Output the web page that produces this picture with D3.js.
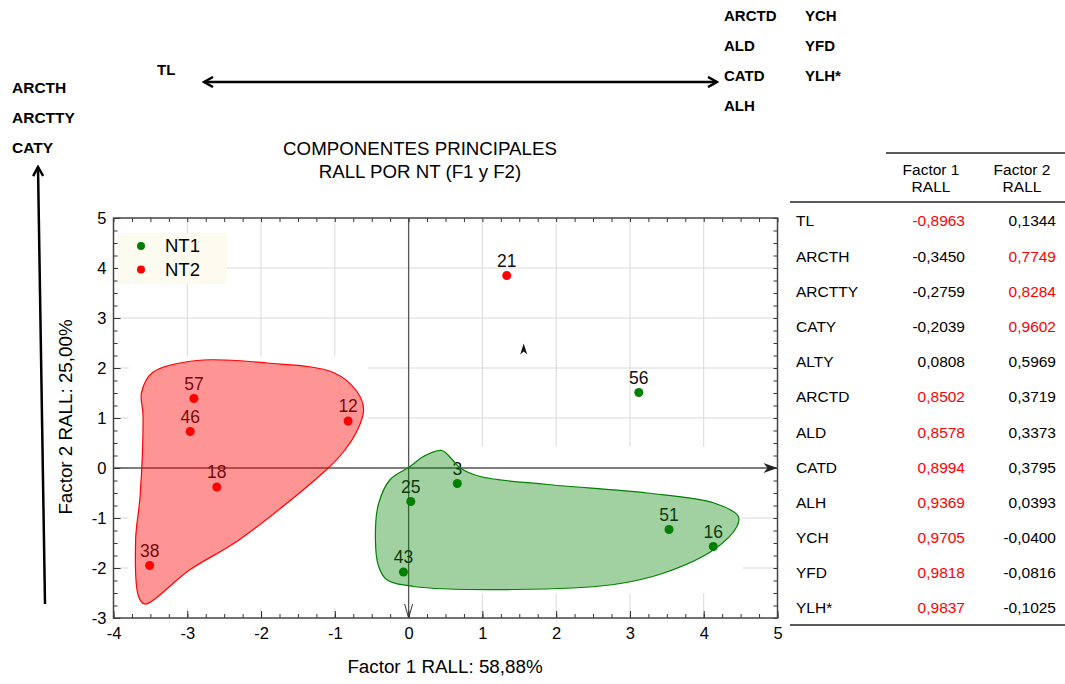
<!DOCTYPE html>
<html>
<head>
<meta charset="utf-8">
<script src="https://cdn.jsdelivr.net/npm/d3@7"></script>
<style>
  body { margin: 0; background: #fff; }
  svg text { font-family: "Liberation Sans", Arial, sans-serif; }
</style>
</head>
<body>
<div id="pca_plot"></div>
<script>
// scores on F1 / F2, one entry per tree
var pointIds   = ["56", "3", "25", "51", "16", "43", "21", "57", "46", "12", "18", "38"];
var pointGroup = ["NT1", "NT1", "NT1", "NT1", "NT1", "NT1", "NT2", "NT2", "NT2", "NT2", "NT2", "NT2"];
var pointF1    = [3.12, 0.66, 0.03, 3.53, 4.13, -0.07, 1.33, -2.91, -2.96, -0.82, -2.60, -3.51];
var pointF2    = [1.51, -0.31, -0.67, -1.23, -1.57, -2.08, 3.85, 1.39, 0.73, 0.94, -0.38, -1.95];

var groups = ["NT1", "NT2"];
var groupColors = ["#008000", "#ff0000"];

// hand drawn envelopes around each group (data units)
var nt2HullF1 = [-3.62, -3.47, -2.87, -1.92, -1.02, -0.70, -0.61, -0.69, -0.89, -1.11, -2.29, -2.96, -3.58, -3.66, -3.70, -3.64, -3.60];
var nt2HullF2 = [1.51, 1.91, 2.15, 2.10, 1.91, 1.53, 1.17, 0.77, 0.31, -0.03, -1.43, -2.03, -2.72, -2.57, -1.43, -0.57, 1.05];
var nt1HullF1 = [0.45, 0.59, 0.70, 0.97, 1.88, 3.23, 4.14, 4.47, 4.45, 4.14, 3.46, 2.78, 1.42, 0.07, -0.30, -0.41, -0.45, -0.41, -0.25, 0.02, 0.20];
var nt1HullF2 = [0.35, 0.17, 0.0, -0.17, -0.33, -0.50, -0.70, -0.97, -1.17, -1.63, -2.10, -2.33, -2.43, -2.37, -2.23, -1.95, -1.43, -0.73, -0.23, 0.03, 0.23];

var xTicks = [-4, -3, -2, -1, 0, 1, 2, 3, 4, 5];
var yTicks = [-3, -2, -1, 0, 1, 2, 3, 4, 5];

// loadings table
var loadingVars = ["TL", "ARCTH", "ARCTTY", "CATY", "ALTY", "ARCTD", "ALD", "CATD", "ALH", "YCH", "YFD", "YLH*"];
var factor1 = [-0.8963, -0.3450, -0.2759, -0.2039, 0.0808, 0.8502, 0.8578, 0.8994, 0.9369, 0.9705, 0.9818, 0.9837];
var factor2 = [0.1344, 0.7749, 0.8284, 0.9602, 0.5969, 0.3719, 0.3373, 0.3795, 0.0393, -0.0400, -0.0816, -0.1025];

// variable names placed at the ends of the loading arrows
var leftVars = ["ARCTH", "ARCTTY", "CATY"];
var rightVarsA = ["ARCTD", "ALD", "CATD", "ALH"];
var rightVarsB = ["YCH", "YFD", "YLH*"];

var W = 1065, H = 684;
var svg = d3.select("#pca_plot").append("svg")
    .attr("width", W).attr("height", H);

var defs = svg.append("defs");
defs.append("marker").attr("id", "headBig")
    .attr("viewBox", "0 0 12 12").attr("refX", 10).attr("refY", 6)
    .attr("markerWidth", 12).attr("markerHeight", 12).attr("markerUnits", "userSpaceOnUse")
    .attr("orient", "auto-start-reverse")
    .append("path").attr("d", "M1,1 L10,6 L1,11").attr("fill", "none")
    .attr("stroke", "#000").attr("stroke-width", 2.5);

var x = d3.scaleLinear().domain([-4, 5]).range([113.5, 777.5]);
var y = d3.scaleLinear().domain([-3, 5]).range([618, 218]);

// grid
var grid = svg.append("g");
grid.selectAll("line.gx").data(xTicks.slice(1, -1)).enter().append("line")
    .attr("x1", function (d) { return x(d); }).attr("x2", function (d) { return x(d); })
    .attr("y1", y(-3)).attr("y2", y(5))
    .attr("stroke", "#d9d9d9").attr("stroke-width", 1);
grid.selectAll("line.gy").data(yTicks.slice(1, -1)).enter().append("line")
    .attr("y1", function (d) { return y(d); }).attr("y2", function (d) { return y(d); })
    .attr("x1", x(-4)).attr("x2", x(5))
    .attr("stroke", "#d9d9d9").attr("stroke-width", 1);

var hullLine = d3.line()
    .x(function (d) { return x(d[0]); })
    .y(function (d) { return y(d[1]); })
    .curve(d3.curveCatmullRomClosed.alpha(0.5));

var hulls = [
    { group: "NT2", pts: d3.zip(nt2HullF1, nt2HullF2) },
    { group: "NT1", pts: d3.zip(nt1HullF1, nt1HullF2) }
];

// white backing box behind each envelope (the grid is hidden there)
var backing = svg.append("g");
hulls.forEach(function (h) {
    var xs = h.pts.map(function (p) { return x(p[0]); });
    var ys = h.pts.map(function (p) { return y(p[1]); });
    backing.append("rect")
        .attr("x", d3.min(xs) - 7).attr("y", d3.min(ys) - 4)
        .attr("width", d3.max(xs) - d3.min(xs) + 11)
        .attr("height", d3.max(ys) - d3.min(ys) + 8)
        .attr("fill", "#fff");
});

// zero lines
svg.append("line")
    .attr("x1", x(-4)).attr("x2", x(5) - 1).attr("y1", y(0)).attr("y2", y(0))
    .attr("stroke", "#555").attr("stroke-width", 1.3);
svg.append("path")
    .attr("d", "M" + x(5) + "," + y(0) + " l-14,-5 l4,5 l-4,5 z").attr("fill", "#222");
svg.append("line")
    .attr("x1", x(0)).attr("x2", x(0)).attr("y1", y(5)).attr("y2", y(-3))
    .attr("stroke", "#555").attr("stroke-width", 1.3);
svg.append("path")
    .attr("d", "M" + (x(0) - 4) + "," + (y(-3) - 14) + " L" + x(0) + "," + y(-3) + " L" + (x(0) + 4) + "," + (y(-3) - 14))
    .attr("fill", "none").attr("stroke", "#333").attr("stroke-width", 1);
// stray arrow head in the upper quadrant
svg.append("path")
    .attr("d", "M" + x(1.56) + "," + (y(2.37) - 6) + " l-3.5,11 l3.5,-3 l3.5,3 z").attr("fill", "#111");

// points + labels
var color = d3.scaleOrdinal().domain(groups).range(groupColors);
var pts = svg.append("g").selectAll("g")
    .data(pointIds.map(function (id, i) { return { id: id, g: pointGroup[i], f1: pointF1[i], f2: pointF2[i] }; }))
    .enter().append("g");
pts.append("circle")
    .attr("cx", function (d) { return x(d.f1); })
    .attr("cy", function (d) { return y(d.f2); })
    .attr("r", 4.5)
    .attr("fill", function (d) { return color(d.g); });
pts.append("text")
    .attr("x", function (d) { return x(d.f1); })
    .attr("y", function (d) { return y(d.f2) - 9; })
    .attr("text-anchor", "middle")
    .attr("font-size", 17.5)
    .attr("fill", "#111")
    .text(function (d) { return d.id; });

// envelopes drawn over points (semi transparent)
svg.append("g").selectAll("path").data(hulls).enter().append("path")
    .attr("d", function (d) { return hullLine(d.pts); })
    .attr("fill", function (d) { return color(d.group); })
    .attr("fill-opacity", function (d) { return d.group === "NT1" ? 0.37 : 0.42; })
    .attr("stroke", function (d) { return color(d.group); })
    .attr("stroke-width", 1.2);

// frame + axes (ticks point inward)
var minorX = d3.range(-4, 5.001, 0.25), minorY = d3.range(-3, 5.001, 0.25);
function fmt(d) { return String(d); }
var axB = svg.append("g").attr("transform", "translate(0," + y(-3) + ")")
    .call(d3.axisBottom(x).tickValues(xTicks).tickSizeInner(-7).tickSizeOuter(0).tickPadding(9).tickFormat(fmt));
var axL = svg.append("g").attr("transform", "translate(" + x(-4) + ",0)")
    .call(d3.axisLeft(y).tickValues(yTicks).tickSizeInner(-7).tickSizeOuter(0).tickPadding(7).tickFormat(fmt));
svg.append("g").attr("transform", "translate(0," + y(5) + ")")
    .call(d3.axisTop(x).tickValues(minorX).tickSizeInner(-4).tickSizeOuter(0).tickFormat(""));
svg.append("g").attr("transform", "translate(" + x(5) + ",0)")
    .call(d3.axisRight(y).tickValues(minorY).tickSizeInner(-4).tickSizeOuter(0).tickFormat(""));
svg.append("g").attr("transform", "translate(0," + y(-3) + ")")
    .call(d3.axisBottom(x).tickValues(minorX).tickSizeInner(-4).tickSizeOuter(0).tickFormat(""));
svg.append("g").attr("transform", "translate(" + x(-4) + ",0)")
    .call(d3.axisLeft(y).tickValues(minorY).tickSizeInner(-4).tickSizeOuter(0).tickFormat(""));
svg.selectAll(".domain").remove();
svg.selectAll(".tick line").attr("stroke", "#333");
[axB, axL].forEach(function (a) {
    a.selectAll("text").attr("font-size", 16.5).attr("fill", "#000")
        .style("font-family", "'Liberation Sans', Arial, sans-serif");
});
svg.append("rect")
    .attr("x", x(-4)).attr("y", y(5)).attr("width", x(5) - x(-4)).attr("height", y(-3) - y(5))
    .attr("fill", "none").attr("stroke", "#444").attr("stroke-width", 1.5);

// legend
var leg = svg.append("g");
leg.append("rect").attr("x", 118).attr("y", 233).attr("width", 109).attr("height", 51).attr("fill", "#fdfaf0");
groups.forEach(function (g, i) {
    leg.append("circle").attr("cx", 141).attr("cy", 246 + i * 23.5).attr("r", 4).attr("fill", color(g));
    leg.append("text").attr("x", 165).attr("y", 246 + i * 23.5).attr("dy", "0.35em")
        .attr("font-size", 18.5).text(g);
});

// titles
svg.append("text").attr("x", 420).attr("y", 155).attr("text-anchor", "middle").attr("font-size", 18.7)
    .text("COMPONENTES PRINCIPALES");
svg.append("text").attr("x", 420).attr("y", 178).attr("text-anchor", "middle").attr("font-size", 18.7)
    .text("RALL POR NT (F1 y F2)");
svg.append("text").attr("x", 445).attr("y", 673).attr("text-anchor", "middle").attr("font-size", 18.8)
    .text("Factor 1 RALL: 58,88%");
svg.append("text").attr("transform", "translate(72,417) rotate(-90)").attr("text-anchor", "middle").attr("font-size", 18.8)
    .text("Factor 2 RALL: 25,00%");

// loading arrows and variable names
svg.append("line").attr("x1", 204).attr("y1", 82).attr("x2", 717).attr("y2", 82)
    .attr("stroke", "#000").attr("stroke-width", 2.5)
    .attr("marker-start", "url(#headBig)").attr("marker-end", "url(#headBig)");
svg.append("line").attr("x1", 45).attr("y1", 604).attr("x2", 38).attr("y2", 167)
    .attr("stroke", "#000").attr("stroke-width", 2.5)
    .attr("marker-end", "url(#headBig)");
svg.append("text").attr("x", 157).attr("y", 75).attr("font-size", 15).attr("font-weight", "bold").text("TL");
leftVars.forEach(function (v, i) {
    svg.append("text").attr("x", 12).attr("y", 93 + i * 30).attr("font-size", 15.5).attr("font-weight", "bold").text(v);
});
rightVarsA.forEach(function (v, i) {
    svg.append("text").attr("x", 724).attr("y", 21 + i * 30).attr("font-size", 15).attr("font-weight", "bold").text(v);
});
rightVarsB.forEach(function (v, i) {
    svg.append("text").attr("x", 805).attr("y", 21 + i * 30).attr("font-size", 15).attr("font-weight", "bold").text(v);
});

// loadings table
var locale = d3.formatLocale({ decimal: ",", thousands: ".", grouping: [3], currency: ["", ""], minus: "-" });
var f4 = locale.format(".4f");
var tbl = svg.append("g").attr("font-size", 15.5);
tbl.append("line").attr("x1", 886).attr("x2", 1065).attr("y1", 153).attr("y2", 153).attr("stroke", "#222").attr("stroke-width", 1.5);
tbl.append("line").attr("x1", 790).attr("x2", 1065).attr("y1", 202).attr("y2", 202).attr("stroke", "#222").attr("stroke-width", 1.5);
tbl.append("line").attr("x1", 790).attr("x2", 1065).attr("y1", 625).attr("y2", 625).attr("stroke", "#222").attr("stroke-width", 1.5);
[["Factor 1", "RALL", 931], ["Factor 2", "RALL", 1022]].forEach(function (h) {
    tbl.append("text").attr("x", h[2]).attr("y", 175).attr("text-anchor", "middle").text(h[0]);
    tbl.append("text").attr("x", h[2]).attr("y", 192).attr("text-anchor", "middle").text(h[1]);
});
var rowY = d3.scalePoint().domain(loadingVars).range([221, 608]);
loadingVars.forEach(function (v, i) {
    var yy = rowY(v);
    tbl.append("text").attr("x", 796).attr("y", yy).attr("dy", "0.35em").text(v);
    tbl.append("text").attr("x", 965).attr("y", yy).attr("dy", "0.35em").attr("text-anchor", "end")
        .attr("fill", Math.abs(factor1[i]) > 0.7 ? "#ff0000" : "#000").text(f4(factor1[i]));
    tbl.append("text").attr("x", 1056).attr("y", yy).attr("dy", "0.35em").attr("text-anchor", "end")
        .attr("fill", Math.abs(factor2[i]) > 0.7 ? "#ff0000" : "#000").text(f4(factor2[i]));
});
</script>
</body>
</html>
